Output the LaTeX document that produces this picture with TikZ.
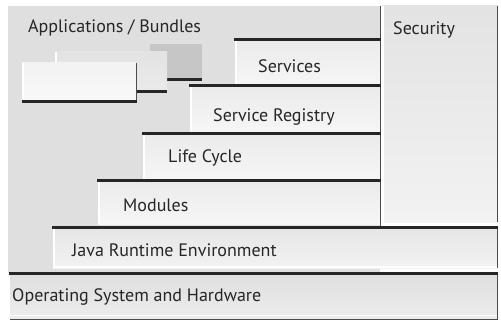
\documentclass[tikz,border=0pt]{standalone}
\usepackage{fontspec}
\setmainfont{PT Sans}
\newcommand\stairbox[4]{% x1, y1, x2, y2
  \shade[top color=gray!16,bottom color=gray!7] (#1,#2) rectangle (#3,#4);
  \draw[hilite] (#1+0.8,#2) -- (#1+0.8,#4);
  \draw[rimedge] (#3,#2) -- (#3,#4);
  \draw[topedge] (#1-1,#2) -- (#3+0.5,#2);
}
\begin{document}
\begin{tikzpicture}[x=1pt,y=-1pt,
  lbl/.style={anchor=west,font=\fontsize{18}{20}\selectfont,text=black!85,inner sep=0pt},
  topedge/.style={line width=3pt,draw=black!85},
  hilite/.style={line width=1.4pt,draw=white},
  rimedge/.style={line width=0.9pt,draw=black!70}]
\useasboundingbox (0,0) rectangle (501,321);
\fill[white] (0,0) rectangle (501,321);

% application / bundle area
\fill[gray!25] (8,6) rectangle (380,273);
\draw[rimedge] (380,6) -- (380,227);

% security column
\shade[top color=gray!22,middle color=gray!32,bottom color=gray!10] (382,6) rectangle (498,222);
\draw[hilite] (383,6) -- (383,222);
\draw[rimedge] (497.5,6) -- (497.5,222);

% stacked bundles
\fill[gray!45] (150,44) rectangle (202,80);
\draw[topedge] (167,80) -- (202,80);
\shade[top color=gray!22,bottom color=gray!16] (55,52) rectangle (167,92);
\draw[hilite] (55.8,52) -- (55.8,63);
\draw[topedge] (135,92) -- (167,92);
\shade[top color=gray!10,bottom color=gray!5] (22,63) rectangle (136,102);
\draw[hilite] (22.8,63) -- (22.8,102);
\draw[rimedge] (136,63) -- (136,102);
\draw[topedge] (22,102) -- (137,102);

% framework layers
\stairbox{235}{40}{380}{86}
\stairbox{190}{86}{380}{133}
\stairbox{143}{133}{380}{180}
\stairbox{98}{180}{380}{224}

% java runtime environment
\shade[top color=gray!20,bottom color=gray!10] (53,227) rectangle (498,268);
\draw[hilite] (53.8,227) -- (53.8,268);
\draw[hilite] (53,266.8) -- (498,266.8);
\draw[rimedge] (497.5,227) -- (497.5,268);
\draw[topedge] (52,227) -- (498,227);

% operating system and hardware
\shade[top color=gray!26,bottom color=gray!14] (10,273) rectangle (498,318);
\draw[hilite] (10,315.5) -- (498,315.5);
\draw[rimedge] (497.5,273) -- (497.5,319);
\draw[rimedge] (10,319.5) -- (498,319.5);
\draw[topedge] (9,273) -- (498,273);

% labels
\node[lbl] (apps) at (28,28) {Applications / Bundles};
\node[lbl] (security) at (393,30) {Security};
\node[lbl] (services) at (258,66) {Services};
\node[lbl] (registry) at (213,117) {Service Registry};
\node[lbl] (lifecycle) at (168,158) {Life Cycle};
\node[lbl] (modules) at (123,205) {Modules};
\node[lbl] (jre) at (72,250) {Java Runtime Environment};
\node[lbl] (os) at (12,297) {Operating System and Hardware};
\end{tikzpicture}
\end{document}
